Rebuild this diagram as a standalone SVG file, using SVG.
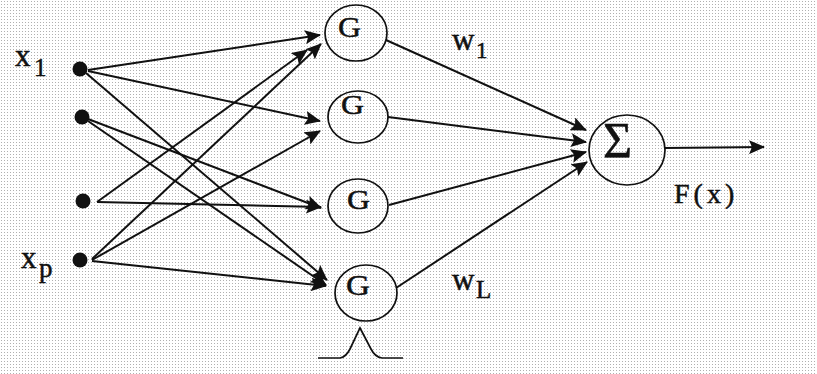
<svg xmlns="http://www.w3.org/2000/svg" width="817" height="374" viewBox="0 0 817 374">
  <style>
    .lbl { font-family: "Liberation Serif", "Times New Roman", serif; fill: #111; stroke: #111; stroke-width: 0.5; }
    .node { fill: none; stroke: #111; stroke-width: 1.7; }
    .dot { fill: #111; }
    .edge { stroke: #111; stroke-width: 2; fill: none; marker-end: url(#arrow); }
  </style>
  <defs>
    <pattern id="grain" width="3" height="3" patternUnits="userSpaceOnUse">
      <rect width="3" height="3" fill="#ffffff"/>
      <rect x="1" y="1" width="1" height="1" fill="#b0b0b0"/>
    </pattern>
    <marker id="arrow" markerUnits="userSpaceOnUse" markerWidth="16" markerHeight="14" refX="15" refY="7" orient="auto">
      <path d="M0,0 L16,7 L0,14 L3,7 z" fill="#111"/>
    </marker>
  </defs>

  <!-- dotted paper background -->
  <rect width="817" height="374" fill="url(#grain)"/>

  <!-- connectors -->
  <g id="connectors">
    <!-- input layer to Gaussian units -->
    <line class="edge" x1="88" y1="70" x2="320" y2="35"/>
    <line class="edge" x1="88" y1="71" x2="320" y2="121"/>
    <line class="edge" x1="86" y1="73" x2="327" y2="280"/>
    <line class="edge" x1="88" y1="119" x2="321" y2="208"/>
    <line class="edge" x1="88" y1="121" x2="326" y2="285"/>
    <line class="edge" x1="97" y1="202" x2="307" y2="50"/>
    <line class="edge" x1="97" y1="202" x2="321" y2="207"/>
    <line class="edge" x1="92" y1="259" x2="321" y2="44"/>
    <line class="edge" x1="92" y1="260" x2="320" y2="131"/>
    <line class="edge" x1="92" y1="261" x2="326" y2="286"/>
    <!-- Gaussian units to the summing unit -->
    <line class="edge" x1="386" y1="40" x2="586" y2="130"/>
    <line class="edge" x1="388" y1="117" x2="586" y2="142"/>
    <line class="edge" x1="389" y1="205" x2="586" y2="152"/>
    <line class="edge" x1="396" y1="288" x2="587" y2="162"/>
    <!-- output -->
    <line class="edge" x1="665" y1="148" x2="764" y2="147"/>
  </g>

  <!-- input nodes -->
  <g id="input-x1">
    <circle class="dot" cx="80" cy="69" r="7.5"/>
    <text class="lbl" x="15" y="66" font-size="31">x</text>
    <text class="lbl" x="34" y="76" font-size="25">1</text>
  </g>
  <g id="input-2">
    <circle class="dot" cx="82" cy="117" r="7.5"/>
  </g>
  <g id="input-3">
    <circle class="dot" cx="83" cy="201" r="7.5"/>
  </g>
  <g id="input-xp">
    <circle class="dot" cx="80" cy="260" r="7.5"/>
    <text class="lbl" x="21" y="268" font-size="31">x</text>
    <text class="lbl" x="39" y="277" font-size="27">p</text>
  </g>

  <!-- Gaussian hidden units -->
  <g id="gauss-1">
    <ellipse class="node" cx="356" cy="33" rx="31" ry="28"/>
    <text class="lbl" x="338" y="37" font-size="30" textLength="23" lengthAdjust="spacingAndGlyphs">G</text>
  </g>
  <g id="gauss-2">
    <ellipse class="node" cx="358" cy="117" rx="30" ry="26"/>
    <text class="lbl" x="341" y="114" font-size="27" textLength="23" lengthAdjust="spacingAndGlyphs">G</text>
  </g>
  <g id="gauss-3">
    <ellipse class="node" cx="358" cy="206" rx="30" ry="27"/>
    <text class="lbl" x="347" y="209" font-size="27" textLength="23" lengthAdjust="spacingAndGlyphs">G</text>
  </g>
  <g id="gauss-4">
    <ellipse class="node" cx="366" cy="293" rx="31" ry="28"/>
    <text class="lbl" x="346" y="295" font-size="30" textLength="24" lengthAdjust="spacingAndGlyphs">G</text>
    <!-- bell-shaped activation -->
    <path class="node" d="M318,358 L340,358 Q346,357 350,349 L360,328 L371,349 Q375,357 382,358 L403,358"/>
  </g>

  <!-- summing output unit -->
  <g id="sum">
    <ellipse class="node" cx="627" cy="150" rx="38" ry="35"/>
    <text class="lbl" x="603" y="157" font-size="50">Σ</text>
  </g>

  <!-- weight and output labels -->
  <g id="labels">
    <text class="lbl" x="452" y="50" font-size="31">w</text>
    <text class="lbl" x="476" y="58" font-size="23">1</text>
    <text class="lbl" x="452" y="290" font-size="31">w</text>
    <text class="lbl" x="476" y="298" font-size="25">L</text>
    <text class="lbl" x="674" y="203" font-size="28" letter-spacing="4">F(x)</text>
  </g>
</svg>
